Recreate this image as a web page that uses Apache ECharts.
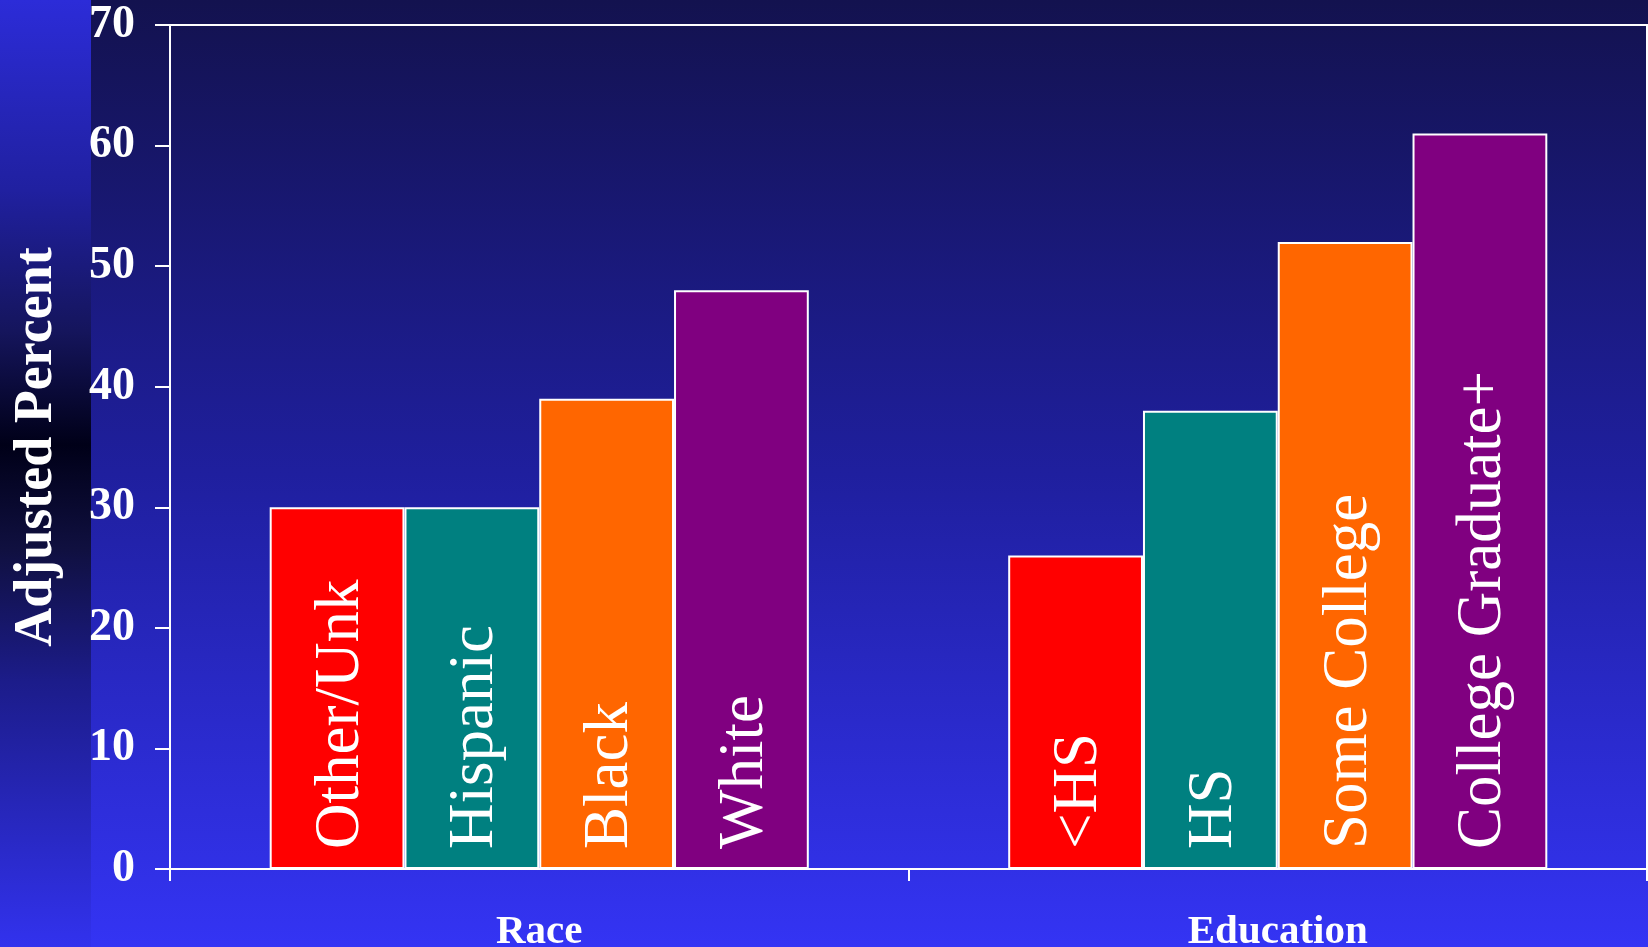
<!DOCTYPE html>
<html>
<head>
<meta charset="utf-8">
<title>Adjusted Percent by Race and Education</title>
<script src="https://cdn.jsdelivr.net/npm/echarts@6/dist/echarts.min.js"></script>
<style>
  html, body { margin: 0; padding: 0; background: #13124f; }
  #chart { width: 1648px; height: 947px; }
</style>
</head>
<body>
<div id="chart"></div>
<script>
// groups on the x axis
var groups = ['Race', 'Education'];
// one bar per slot inside each group
var raceLabels = ['Other/Unk', 'Hispanic', 'Black', 'White'];
var eduLabels = ['<HS', 'HS', 'Some College', 'College Graduate+'];
var raceValues = [30, 30, 39, 48];
var eduValues = [26, 38, 52, 61];
var yTicks = [0, 10, 20, 30, 40, 50, 60, 70];

var barColors = ['#ff0000', '#008080', '#ff6600', '#800080'];
var font = 'Liberation Serif, Times New Roman, serif';

var dom = document.getElementById('chart');
var myChart = echarts.init(dom);

var barLabels = [raceLabels, eduLabels];
var series = [];
for (var i = 0; i < 4; i++) {
  series.push({
    type: 'bar',
    name: raceLabels[i] + ' / ' + eduLabels[i],
    data: [raceValues[i], eduValues[i]],
    barGap: 0,
    barCategoryGap: '27%',
    itemStyle: { color: barColors[i], borderColor: '#ffffff', borderWidth: 2 },
    label: {
      show: true,
      position: 'insideBottom',
      rotate: 90,
      align: 'left',
      verticalAlign: 'middle',
      distance: 20,
      offset: [0, 4],
      color: '#ffffff',
      fontFamily: font,
      fontSize: 63,
      formatter: function (p) { return barLabels[p.dataIndex][p.seriesIndex]; }
    },
    silent: true
  });
}

var option = {
  animation: false,
  backgroundColor: {
    type: 'linear', x: 0, y: 0, x2: 0, y2: 1,
    colorStops: [
      { offset: 0, color: '#13124f' },
      { offset: 0.5, color: '#1f1f9e' },
      { offset: 1, color: '#3434f4' }
    ]
  },
  graphic: [{
    type: 'rect',
    z: -10,
    shape: { x: 0, y: 0, width: 91, height: 947 },
    style: {
      fill: {
        type: 'linear', x: 0, y: 0, x2: 0, y2: 1,
        colorStops: [
          { offset: 0, color: '#2c2cd8' },
          { offset: 0.2, color: '#2020a0' },
          { offset: 0.35, color: '#15155c' },
          { offset: 0.47, color: '#000018' },
          { offset: 0.58, color: '#101040' },
          { offset: 0.72, color: '#1c1c8a' },
          { offset: 1, color: '#3232ee' }
        ]
      }
    }
  }],
  grid: {
    left: 170, right: 1, top: 25, bottom: 78,
    outerBoundsMode: 'none',
    containLabel: false,
    show: true, borderColor: '#ffffff', borderWidth: 2, backgroundColor: 'transparent'
  },
  xAxis: {
    type: 'category',
    data: groups,
    axisLine: { lineStyle: { color: '#ffffff', width: 2 } },
    axisTick: { show: true, length: 12, lineStyle: { color: '#ffffff', width: 2 } },
    axisLabel: {
      color: '#ffffff', fontFamily: font, fontWeight: 'bold', fontSize: 41, margin: 43
    }
  },
  yAxis: {
    type: 'value',
    min: yTicks[0],
    max: yTicks[yTicks.length - 1],
    interval: 10,
    name: 'Adjusted Percent',
    nameLocation: 'middle',
    nameRotate: 90,
    nameGap: 106,
    nameTextStyle: { color: '#ffffff', fontFamily: font, fontWeight: 'bold', fontSize: 54 },
    axisLine: { show: true, lineStyle: { color: '#ffffff', width: 2 } },
    axisTick: { show: true, length: 15, lineStyle: { color: '#ffffff', width: 2 } },
    splitLine: { show: false },
    axisLabel: {
      color: '#ffffff', fontFamily: font, fontWeight: 'bold', fontSize: 46, margin: 35
    }
  },
  series: series
};

myChart.setOption(option);
</script>
</body>
</html>
